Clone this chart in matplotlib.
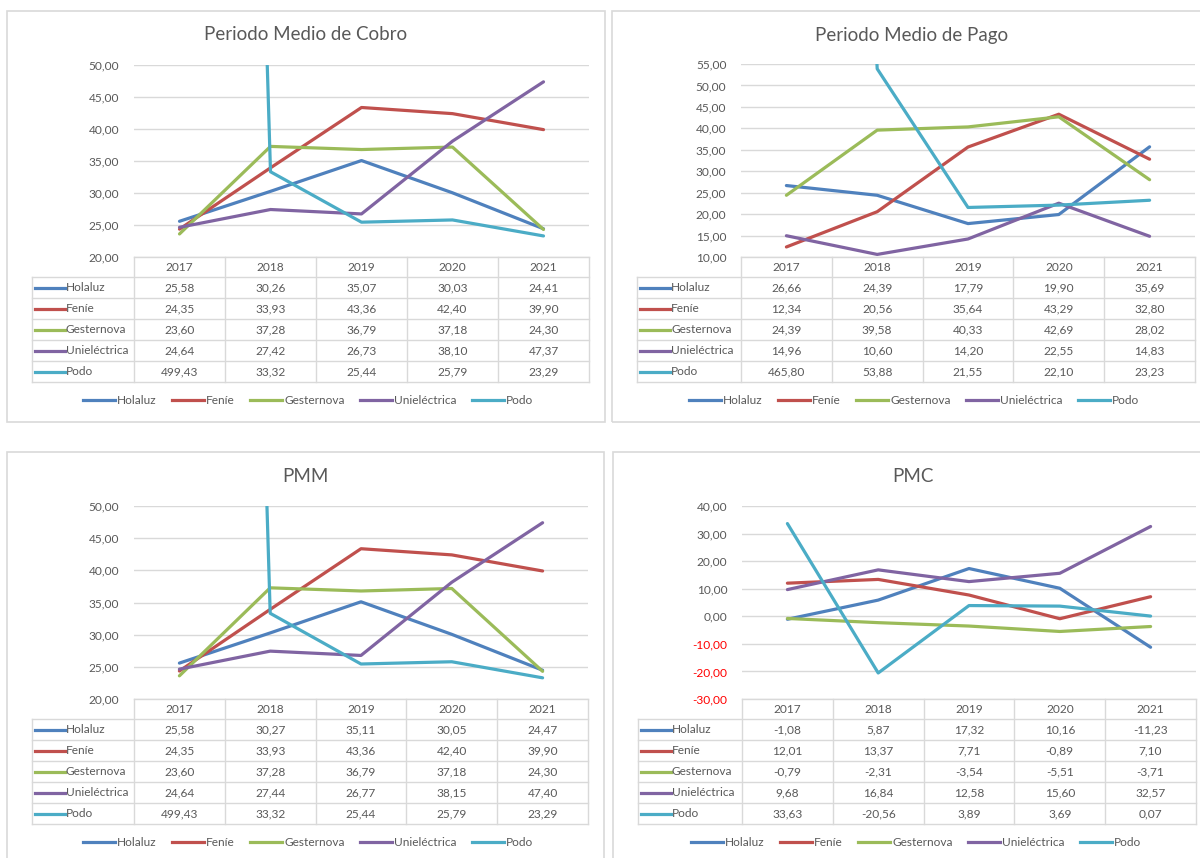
import matplotlib
matplotlib.use("Agg")
import matplotlib.pyplot as plt
from matplotlib.patches import Rectangle
from matplotlib.ticker import FuncFormatter
from matplotlib.lines import Line2D

plt.rcParams['font.family'] = ['Lato', 'DejaVu Sans']

years = ["2017", "2018", "2019", "2020", "2021"]
companies = ["Holaluz", "Feníe", "Gesternova", "Unieléctrica", "Podo"]
colors = ["#4F81BD", "#C0504D", "#9BBB59", "#8064A2", "#4BACC6"]

# Periodo Medio de Cobro
cobro = [
    [25.58, 30.26, 35.07, 30.03, 24.41],
    [24.35, 33.93, 43.36, 42.40, 39.90],
    [23.60, 37.28, 36.79, 37.18, 24.30],
    [24.64, 27.42, 26.73, 38.10, 47.37],
    [499.43, 33.32, 25.44, 25.79, 23.29],
]

# Periodo Medio de Pago
pago = [
    [26.66, 24.39, 17.79, 19.90, 35.69],
    [12.34, 20.56, 35.64, 43.29, 32.80],
    [24.39, 39.58, 40.33, 42.69, 28.02],
    [14.96, 10.60, 14.20, 22.55, 14.83],
    [465.80, 53.88, 21.55, 22.10, 23.23],
]

# PMM
pmm = [
    [25.58, 30.27, 35.11, 30.05, 24.47],
    [24.35, 33.93, 43.36, 42.40, 39.90],
    [23.60, 37.28, 36.79, 37.18, 24.30],
    [24.64, 27.44, 26.77, 38.15, 47.40],
    [499.43, 33.32, 25.44, 25.79, 23.29],
]

# PMC
pmc = [
    [-1.08, 5.87, 17.32, 10.16, -11.23],
    [12.01, 13.37, 7.71, -0.89, 7.10],
    [-0.79, -2.31, -3.54, -5.51, -3.71],
    [9.68, 16.84, 12.58, 15.60, 32.57],
    [33.63, -20.56, 3.89, 3.69, 0.07],
]

W, H = 1200, 858
TXT = "#595959"
GRID = "#D9D9D9"

fig = plt.figure(figsize=(12, 8.58), dpi=100)


def fx(x):
    return x / W


def fy(y):
    return 1 - y / H


def fmt(v):
    return f"{v:.2f}".replace(".", ",")


def panel(title, data, ylim, ystep, border, plot, table_left, title_xy, legend_xy):
    bx0, by0, bx1, by1 = border
    fig.patches.append(Rectangle((fx(bx0), fy(by1)), fx(bx1 - bx0), (by1 - by0) / H,
                                 transform=fig.transFigure, fill=False,
                                 edgecolor=GRID, linewidth=1.2))
    fig.text(fx(title_xy[0]), fy(title_xy[1]), title, ha="center", va="center",
             fontsize=13.5, color=TXT)

    pl, pt, pr, pb = plot
    ax = fig.add_axes([fx(pl), fy(pb), fx(pr - pl), (pb - pt) / H])
    ax.set_xlim(-0.5, 4.5)
    ax.set_ylim(*ylim)
    yt = []
    v = ylim[0]
    while v <= ylim[1] + 1e-9:
        yt.append(v)
        v += ystep
    ax.set_yticks(yt)
    ax.yaxis.set_major_formatter(FuncFormatter(lambda v, p: fmt(v)))
    ax.set_xticks([])
    for s in ax.spines.values():
        s.set_visible(False)
    ax.grid(axis="y", color=GRID, linewidth=1.0)
    ax.set_axisbelow(True)
    ax.tick_params(axis="y", length=0, pad=10.5, labelsize=8.6, labelcolor=TXT)
    for lab, val in zip(ax.get_yticklabels(), yt):
        if val < 0:
            lab.set_color("#FF0000")

    xs = range(len(years))
    for name, row, c in zip(companies, data, colors):
        ax.plot(xs, row, color=c, linewidth=2.3, solid_joinstyle="round",
                solid_capstyle="round", label=name)

    # data table
    colw = (pr - pl) / 5.0
    hh, rh = 20, 21
    th = hh + rh * len(companies)
    tb = fig.add_axes([fx(table_left), fy(pb + th), fx(pr - table_left), th / H])
    xl = -0.5 - (pl - table_left) / colw
    tb.set_xlim(xl, 4.5)
    tb.set_ylim(th, 0)
    tb.axis("off")
    lk = dict(color=GRID, linewidth=1.0, clip_on=False)
    tb.plot([-0.5, 4.5], [0, 0], **lk)
    for i in range(len(companies) + 1):
        y = hh + rh * i
        tb.plot([xl, 4.5], [y, y], **lk)
    for k in range(6):
        xk = -0.5 + k
        tb.plot([xk, xk], [0, th], **lk)
    tb.plot([xl, xl], [hh, th], **lk)
    for j, yr in enumerate(years):
        tb.text(j, hh / 2 + 0.5, yr, ha="center", va="center", fontsize=8.6, color=TXT)
    for i, (name, row, c) in enumerate(zip(companies, data, colors)):
        yc = hh + rh * i + rh / 2
        tb.plot([xl + 3 / colw, xl + 33 / colw], [yc, yc], color=c, linewidth=2.3,
                clip_on=False)
        tb.text(xl + 34 / colw, yc, name, ha="left", va="center", fontsize=8.6, color=TXT)
        for j, val in enumerate(row):
            tb.text(j, yc, fmt(val), ha="center", va="center", fontsize=8.6, color=TXT)

    handles = [Line2D([], [], color=c, linewidth=2.3) for c in colors]
    ax.legend(handles, companies, ncol=5, loc="center",
              bbox_to_anchor=(fx(legend_xy[0]), fy(legend_xy[1])),
              bbox_transform=fig.transFigure, frameon=False, fontsize=8.6,
              handlelength=2.7, handletextpad=0.15, columnspacing=1.3,
              labelcolor=TXT)


panel("Periodo Medio de Cobro", cobro, (20, 50), 5,
      (7, 11, 605, 422), (134, 65, 589, 257), 32, (306, 35), (308, 401))
panel("Periodo Medio de Pago", pago, (10, 55), 5,
      (612, 11, 1210, 422), (741, 64, 1195, 257), 637, (912, 35), (914, 401))
panel("PMM", pmm, (20, 50), 5,
      (7, 452, 604, 870), (134, 506, 588, 699), 32, (305, 476), (308, 843))
panel("PMC", pmc, (-30, 40), 10,
      (613, 452, 1210, 870), (742, 506, 1196, 699), 638, (913, 476), (916, 843))

fig.savefig("out.png", dpi=100, facecolor="white")
